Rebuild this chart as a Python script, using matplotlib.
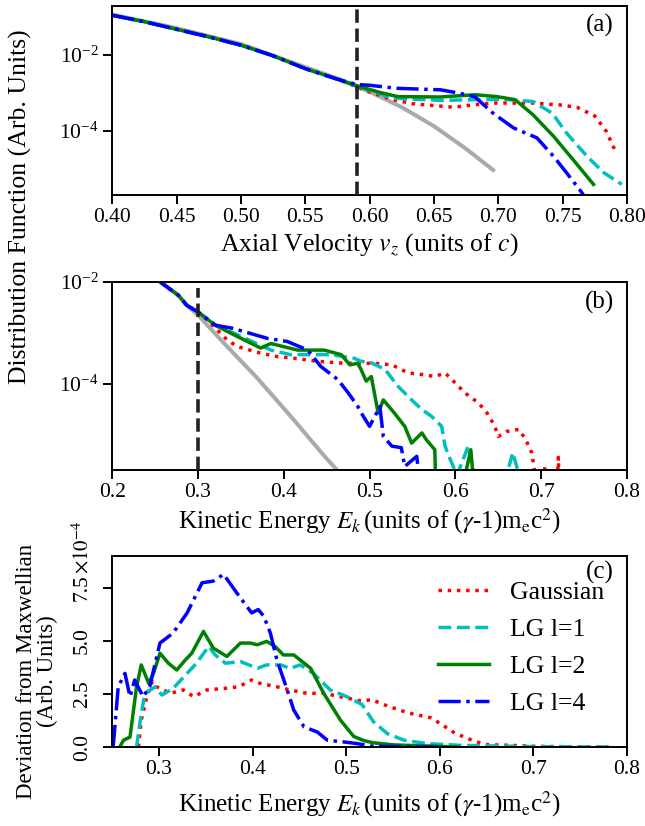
import numpy as np
import matplotlib.pyplot as plt

plt.rcParams['font.family'] = ['Liberation Serif', 'DejaVu Serif']
plt.rcParams['mathtext.fontset'] = 'stix'
plt.rcParams['axes.linewidth'] = 1.4
plt.rcParams['xtick.major.width'] = 1.4
plt.rcParams['ytick.major.width'] = 1.4
plt.rcParams['xtick.major.size'] = 6.5
plt.rcParams['ytick.major.size'] = 6.5

# ---- panel (a): axial velocity distribution (log10 values)
vz_common = [0.40, 0.425, 0.45, 0.475, 0.50, 0.525, 0.55, 0.575]
fz_common = [-0.95, -1.12, -1.32, -1.52, -1.74, -2.02, -2.36, -2.64]

vz_maxw = [0.40, 0.45, 0.50, 0.55, 0.575, 0.60, 0.625, 0.65, 0.675, 0.696]
fz_maxw = [-0.93, -1.29, -1.71, -2.32, -2.62, -2.97, -3.38, -3.88, -4.48, -5.04]

vz_gauss = [0.59, 0.60, 0.618, 0.634, 0.665, 0.68, 0.696, 0.727, 0.748, 0.761, 0.775, 0.784, 0.791]
fz_gauss = [-2.84, -2.98, -3.18, -3.29, -3.38, -3.32, -3.27, -3.27, -3.32, -3.38, -3.61, -4.02, -4.54]

vz_lg1 = [0.59, 0.618, 0.655, 0.682, 0.704, 0.727, 0.742, 0.753, 0.769, 0.782, 0.796]
fz_lg1 = [-2.82, -3.14, -3.20, -3.18, -3.17, -3.23, -3.54, -4.06, -4.68, -5.11, -5.42]

vz_lg2 = [0.59, 0.608, 0.622, 0.655, 0.682, 0.699, 0.713, 0.727, 0.743, 0.758, 0.774]
fz_lg2 = [-2.81, -2.99, -3.10, -3.11, -3.05, -3.10, -3.18, -3.58, -4.15, -4.76, -5.42]

vz_lg4 = [0.59, 0.60, 0.621, 0.655, 0.67, 0.682, 0.696, 0.712, 0.73, 0.743, 0.753, 0.765, 0.77]
fz_lg4 = [-2.78, -2.80, -2.88, -2.92, -3.01, -3.11, -3.54, -3.93, -4.19, -4.68, -5.11, -5.64, -5.9]

# ---- panel (b): kinetic energy distribution (log10 values)
ek_common = [0.25, 0.256, 0.277, 0.287, 0.30]
fe_common = [-1.9, -2.0, -2.26, -2.46, -2.59]

ek_maxw = [0.25, 0.256, 0.277, 0.287, 0.30, 0.33, 0.369, 0.408, 0.447, 0.461, 0.47]
fe_maxw = [-1.9, -2.0, -2.26, -2.46, -2.65, -3.2, -3.89, -4.64, -5.42, -5.68, -5.9]

ek_gauss = [0.311, 0.334, 0.346, 0.373, 0.393, 0.412, 0.439, 0.471, 0.49, 0.506, 0.526,
            0.545, 0.561, 0.576, 0.588, 0.596, 0.611, 0.627, 0.637, 0.646, 0.65, 0.66,
            0.674, 0.682, 0.689, 0.694, 0.70, 0.705, 0.71, 0.719, 0.72, 0.721]
fe_gauss = [-2.75, -3.14, -3.27, -3.40, -3.47, -3.50, -3.56, -3.60, -3.60, -3.60, -3.63,
            -3.79, -3.82, -3.86, -3.79, -3.92, -4.18, -4.38, -4.58, -4.84, -5.04, -4.94,
            -4.90, -5.10, -5.36, -5.9, -5.9, -5.63, -5.9, -5.9, -5.45, -5.9]

ek_lg1 = [0.32, 0.35, 0.385, 0.408, 0.428, 0.455, 0.482, 0.49, 0.502, 0.518, 0.533,
          0.549, 0.561, 0.572, 0.584, 0.588, 0.594, 0.602, 0.615, 0.624, 0.658, 0.667, 0.676]
fe_lg1 = [-2.84, -3.07, -3.34, -3.43, -3.43, -3.43, -3.50, -3.56, -3.59, -3.72, -4.05,
          -4.32, -4.51, -4.64, -4.84, -5.23, -5.49, -5.8, -5.23, -5.9, -5.9, -5.36, -5.9]

ek_lg2 = [0.32, 0.342, 0.373, 0.385, 0.416, 0.447, 0.467, 0.477, 0.486, 0.49, 0.496,
          0.502, 0.51, 0.516, 0.529, 0.541, 0.549, 0.561, 0.566, 0.576, 0.577, 0.61,
          0.618, 0.621]
fe_lg2 = [-2.85, -3.04, -3.30, -3.21, -3.34, -3.34, -3.43, -3.63, -3.60, -3.72, -3.95,
          -3.86, -4.58, -4.32, -4.58, -4.84, -5.17, -4.97, -5.10, -5.30, -5.9, -5.9,
          -5.30, -5.9]

ek_lg4 = [0.32, 0.34, 0.381, 0.404, 0.428, 0.443, 0.463, 0.475, 0.486, 0.49, 0.50,
          0.512, 0.516, 0.526, 0.537, 0.541, 0.555, 0.558]
fe_lg4 = [-2.85, -2.91, -3.11, -3.17, -3.34, -3.66, -3.92, -4.18, -4.44, -4.57, -4.84,
          -4.45, -5.04, -5.23, -5.26, -5.63, -5.43, -5.9]

# ---- panel (c): deviation from Maxwellian (units of 1e-4)
ek_dev_gauss = [0.278, 0.281, 0.287, 0.293, 0.2975, 0.312, 0.326, 0.337, 0.351, 0.369,
                0.385, 0.399, 0.408, 0.426, 0.44, 0.458, 0.476, 0.494, 0.517, 0.527,
                0.54, 0.566, 0.591, 0.602, 0.616, 0.637, 0.651, 0.676, 0.705, 0.78]
dev_gauss = [0.0, 1.26, 2.37, 3.1, 2.84, 2.53, 2.69, 2.37, 2.69, 2.76,
             2.84, 3.16, 3.0, 2.84, 2.69, 2.53, 2.53, 2.37, 2.16, 2.24,
             2.0, 1.61, 1.37, 1.06, 0.66, 0.27, 0.11, 0.08, 0.03, 0.0]

ek_dev_lg1 = [0.276, 0.281, 0.285, 0.296, 0.303, 0.315, 0.33, 0.34, 0.353, 0.36, 0.371,
              0.387, 0.405, 0.415, 0.43, 0.44, 0.451, 0.465, 0.483, 0.501, 0.517, 0.529,
              0.544, 0.562, 0.587, 0.622, 0.70, 0.785]
dev_lg1 = [0.0, 1.58, 2.53, 2.84, 2.45, 2.76, 3.47, 3.95, 4.74, 4.34, 3.95,
           4.03, 3.71, 3.87, 3.87, 3.71, 3.87, 3.47, 2.69, 2.37, 2.0, 1.2,
           0.63, 0.32, 0.16, 0.08, 0.02, 0.0]

ek_dev_lg2 = [0.258, 0.262, 0.269, 0.276, 0.281, 0.289, 0.294, 0.301, 0.31, 0.319, 0.328,
              0.335, 0.3475, 0.358, 0.3725, 0.387, 0.3975, 0.405, 0.415, 0.424, 0.433,
              0.444, 0.462, 0.476, 0.494, 0.508, 0.519, 0.529, 0.551, 0.587, 0.62]
dev_lg2 = [0.0, 0.32, 0.47, 2.84, 3.87, 3.0, 3.47, 4.42, 3.95, 3.63, 4.1,
           4.42, 5.45, 4.66, 4.27, 4.9, 4.9, 4.82, 4.98, 4.74, 4.34,
           4.34, 3.71, 2.53, 1.26, 0.5, 0.3, 0.2, 0.1, 0.05, 0.0]

ek_dev_lg4 = [0.251, 0.2564, 0.2636, 0.269, 0.274, 0.283, 0.29, 0.301, 0.315, 0.33, 0.346,
              0.358, 0.369, 0.383, 0.399, 0.406, 0.412, 0.419, 0.426, 0.437, 0.444,
              0.455, 0.469, 0.48, 0.4975, 0.512, 0.526, 0.537, 0.587, 0.60]
dev_lg4 = [0.0, 2.84, 3.47, 2.37, 3.16, 2.37, 2.84, 4.9, 5.37, 6.32, 7.74,
           7.82, 8.14, 7.27, 6.32, 6.48, 6.16, 5.37, 4.1, 2.69, 1.74,
           0.95, 0.71, 0.32, 0.24, 0.16, 0.05, 0.03, 0.0, 0.0]

labels = ['Gaussian', 'LG l=1', 'LG l=2', 'LG l=4']
colors = ['red', 'c', 'g', 'b']
styles = [':', '--', '-', '-.']
maxw_color = '#aaaaaa'
lw = 2.5
label_fs = 18.5

fig = plt.figure(figsize=(6.45, 8.26), dpi=100)
ax1 = fig.add_axes([0.174, 0.764, 0.798, 0.229])
ax2 = fig.add_axes([0.174, 0.431, 0.798, 0.2276])
ax3 = fig.add_axes([0.174, 0.0956, 0.798, 0.2312])

# panel (a)
ax1.plot(vz_maxw, 10 ** np.array(fz_maxw), color=maxw_color, lw=lw + 0.4)
tails_a = [(vz_gauss, fz_gauss), (vz_lg1, fz_lg1), (vz_lg2, fz_lg2), (vz_lg4, fz_lg4)]
for (vx, fv), c, ls in zip(tails_a, colors, styles):
    ax1.plot(vz_common + vx, 10 ** np.array(fz_common + fv), color=c, ls=ls, lw=lw)
ax1.axvline(0.59, color='#222222', ls='--', lw=2.6, zorder=5)
ax1.set_yscale('log')
ax1.set_xlim(0.40, 0.80)
ax1.set_ylim(2e-6, 0.2)
ax1.set_yticks([1e-2, 1e-4])
ax1.minorticks_off()
ax1.set_xticks([0.40, 0.45, 0.50, 0.55, 0.60, 0.65, 0.70, 0.75, 0.80])
ax1.set_xticklabels(['0.40', '0.45', '0.50', '0.55', '0.60', '0.65', '0.70', '0.75', '0.80'])
ax1.set_xlabel(r'Axial Velocity $v_z$ (units of $c$)', fontsize=label_fs, labelpad=3)
ax1.text(0.975, 0.955, '(a)', transform=ax1.transAxes, ha='right', va='top', fontsize=18)

# panel (b)
ax2.plot(ek_maxw, 10 ** np.array(fe_maxw), color=maxw_color, lw=lw + 0.4)
tails_b = [(ek_gauss, fe_gauss), (ek_lg1, fe_lg1), (ek_lg2, fe_lg2), (ek_lg4, fe_lg4)]
for (ex, fv), c, ls in zip(tails_b, colors, styles):
    ax2.plot(ek_common + ex, 10 ** np.array(fe_common + fv), color=c, ls=ls, lw=lw)
ax2.axvline(0.30, ymax=0.97, color='#222222', ls='--', lw=2.6, zorder=5)
ax2.set_yscale('log')
ax2.set_xlim(0.2, 0.8)
ax2.set_ylim(2e-6, 1e-2)
ax2.set_yticks([1e-2, 1e-4])
ax2.minorticks_off()
ax2.set_xticks([0.2, 0.3, 0.4, 0.5, 0.6, 0.7, 0.8])
ax2.set_xlabel(r'Kinetic Energy $E_k\,$(units of ($\gamma$-1)m$_\mathrm{e}$c$^2$)',
               fontsize=18, labelpad=3)
ax2.text(0.975, 0.955, '(b)', transform=ax2.transAxes, ha='right', va='top', fontsize=18)

# panel (c)
devs = [(ek_dev_gauss, dev_gauss), (ek_dev_lg1, dev_lg1), (ek_dev_lg2, dev_lg2),
        (ek_dev_lg4, dev_lg4)]
for (ex, dv), c, ls, lab in zip(devs, colors, styles, labels):
    ax3.plot(ex, np.array(dv) * 1e-4, color=c, ls=ls, lw=lw, label=lab)
ax3.set_xlim(0.25, 0.8)
ax3.set_ylim(0, 9e-4)
ax3.set_xticks([0.3, 0.4, 0.5, 0.6, 0.7, 0.8])
ax3.set_yticks([0, 2.5e-4, 5e-4, 7.5e-4])
ax3.set_yticklabels(['0.0', '2.5', '5.0', '7.5'], rotation=90, va='center')
ax3.set_xlabel(r'Kinetic Energy $E_k\,$(units of ($\gamma$-1)m$_\mathrm{e}$c$^2$)',
               fontsize=18, labelpad=7)
ax3.text(0.975, 0.975, '(c)', transform=ax3.transAxes, ha='right', va='top', fontsize=18)
ax3.legend(loc='upper right', bbox_to_anchor=(1.0, 0.99), frameon=False, fontsize=18.5,
           handlelength=2.0, labelspacing=0.55)
fig.text(83 / 645, 1 - 574 / 826, r'$\times10^{-4}$', rotation=90, ha='center',
         va='bottom', fontsize=15)

for ax in (ax1, ax2, ax3):
    ax.tick_params(labelsize=15.5)
    ax.tick_params(axis='x', pad=3)
ax3.tick_params(axis='y', pad=8)

fig.text(20 / 645, 1 - 207 / 826, 'Distribution Function (Arb. Units)', rotation=90,
         ha='center', va='center', fontsize=label_fs)
fig.text(37 / 645, 1 - 671 / 826, 'Deviation from Maxwellian\n(Arb. Units)', rotation=90,
         ha='center', va='center', fontsize=16.5, linespacing=0.95)

fig.savefig('out.png', dpi=100)
